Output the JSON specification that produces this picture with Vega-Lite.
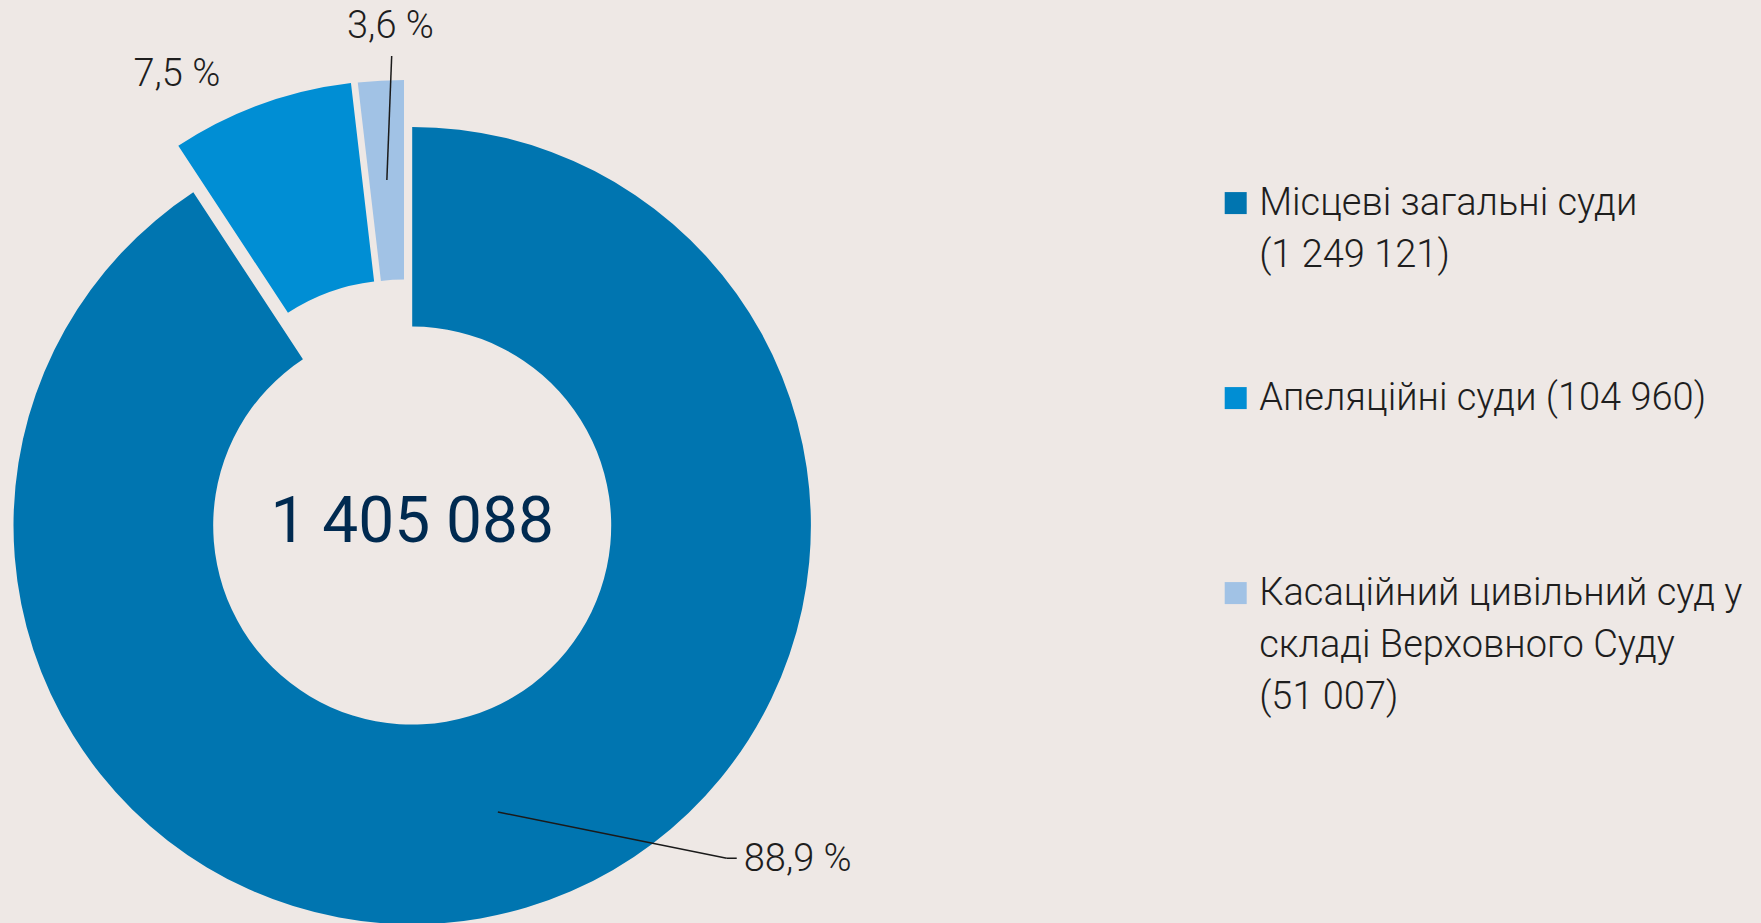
{
  "$schema": "https://vega.github.io/schema/vega-lite/v6.json",
  "width": 824.4,
  "height": 792.4,
  "autosize": {"type": "none"},
  "padding": {"left": 0, "top": 129.4, "right": 936.6, "bottom": 1.2},
  "background": "#EEE8E5",
  "config": {
    "view": {"stroke": null},
    "font": "Roboto",
    "locale": {"number": {"decimal": ",", "thousands": " ", "grouping": [3], "currency": ["", ""]}},
    "style": {"guide-label": {"lineHeight": 52}}
  },
  "data": {
    "values": [
      {"key": "local", "order": 1, "label": "Місцеві загальні суди|(1 249 121)|", "count": 1249121, "share": 90.75, "pct": "88,9 %"},
      {"key": "appeal", "order": 2, "label": "Апеляційні суди (104 960)||", "count": 104960, "share": 7.4, "pct": "7,5 %"},
      {"key": "cass", "order": 3, "label": "Касаційний цивільний суд у|складі Верховного Суду|(51 007)", "count": 51007, "share": 1.85, "pct": "3,6 %"}
    ]
  },
  "transform": [
    {"stack": "share", "groupby": [], "as": ["v0", "v1"], "sort": [{"field": "order", "order": "ascending"}]},
    {"calculate": "(datum.v0 + datum.v1) / 2", "as": "mid"}
  ],
  "layer": [
    {
      "encoding": {
        "theta": {"field": "v0", "type": "quantitative", "stack": null, "scale": {"domain": [0, 100]}},
        "theta2": {"field": "v1"},
        "color": {
          "field": "label",
          "type": "nominal",
          "scale": {
            "domain": ["Місцеві загальні суди|(1 249 121)|", "Апеляційні суди (104 960)||", "Касаційний цивільний суд у|складі Верховного Суду|(51 007)"],
            "range": ["#0075B0", "#008ED4", "#A1C2E5"]
          },
          "legend": {
            "title": null,
            "orient": "none",
            "legendX": 1216.7,
            "legendY": 67,
            "direction": "vertical",
            "padding": 0,
            "rowPadding": 53,
            "symbolType": "M-1,-2.12H1V-0.12H-1Z",
            "symbolSize": 484,
            "symbolStrokeWidth": 0,
            "symbolOpacity": 1,
            "labelExpr": "split(datum.label, '|')",
            "labelFont": "Roboto",
            "labelFontSize": 38,
            "labelFontWeight": 300,
            "labelColor": "#1E1E1E",
            "labelBaseline": "alphabetic",
            "labelOffset": 4.5,
            "labelLimit": 800
          }
        }
      },
      "layer": [
        {
          "transform": [{"filter": "datum.key == 'local'"}],
          "mark": {"type": "arc", "radius": 398.7, "radius2": 199}
        },
        {
          "transform": [{"filter": "datum.key == 'appeal'"}],
          "mark": {"type": "arc", "radius": 398.7, "radius2": 199, "xOffset": -15, "yOffset": -46.5}
        },
        {
          "transform": [{"filter": "datum.key == 'cass'"}],
          "mark": {"type": "arc", "radius": 398.7, "radius2": 199, "xOffset": -8.2, "yOffset": -47}
        }
      ]
    },
    {
      "transform": [
        {"filter": "datum.key == 'local'"},
        {"calculate": "299 * sin(datum.mid / 100 * 2 * PI)", "as": "lx0"},
        {"calculate": "299 * cos(datum.mid / 100 * 2 * PI)", "as": "ly0"},
        {"calculate": "457.8 * sin((datum.mid - 7.43) / 100 * 2 * PI)", "as": "lx1"},
        {"calculate": "457.8 * cos((datum.mid - 7.43) / 100 * 2 * PI)", "as": "ly1"},
        {"calculate": "datum.lx1 + 10", "as": "lx2"}
      ],
      "layer": [
        {
          "mark": {"type": "rule", "color": "#1A1A1A", "strokeWidth": 1.5},
          "encoding": {
            "x": {"field": "lx0", "type": "quantitative", "scale": {"domain": [-412.2, 412.2], "nice": false, "zero": false}, "axis": null},
            "y": {"field": "ly0", "type": "quantitative", "scale": {"domain": [-396.2, 396.2], "nice": false, "zero": false}, "axis": null},
            "x2": {"field": "lx1"},
            "y2": {"field": "ly1"}
          }
        },
        {
          "mark": {"type": "rule", "color": "#1A1A1A", "strokeWidth": 1.5},
          "encoding": {
            "x": {"field": "lx1", "type": "quantitative", "scale": {"domain": [-412.2, 412.2], "nice": false, "zero": false}, "axis": null},
            "y": {"field": "ly1", "type": "quantitative", "scale": {"domain": [-396.2, 396.2], "nice": false, "zero": false}, "axis": null},
            "x2": {"field": "lx2"}
          }
        }
      ]
    },
    {
      "transform": [
        {"filter": "datum.key == 'cass'"},
        {"calculate": "346.5 * sin((datum.mid - 0.24) / 100 * 2 * PI)", "as": "lx0"},
        {"calculate": "346.5 * cos((datum.mid - 0.24) / 100 * 2 * PI)", "as": "ly0"},
        {"calculate": "470 * sin((datum.mid + 0.23) / 100 * 2 * PI)", "as": "lx1"},
        {"calculate": "470 * cos((datum.mid + 0.23) / 100 * 2 * PI)", "as": "ly1"}
      ],
      "mark": {"type": "rule", "color": "#1A1A1A", "strokeWidth": 1.5},
      "encoding": {
        "x": {"field": "lx0", "type": "quantitative", "scale": {"domain": [-412.2, 412.2], "nice": false, "zero": false}, "axis": null},
        "y": {"field": "ly0", "type": "quantitative", "scale": {"domain": [-396.2, 396.2], "nice": false, "zero": false}, "axis": null},
        "x2": {"field": "lx1"},
        "y2": {"field": "ly1"}
      }
    },
    {
      "transform": [{"filter": "datum.key == 'local'"}],
      "mark": {"type": "text", "radius": 510, "thetaOffset": -0.5664, "font": "Roboto", "fontSize": 38, "fontWeight": 300, "color": "#1E1E1E", "align": "center", "baseline": "middle"},
      "encoding": {
        "theta": {"field": "mid", "type": "quantitative", "stack": null, "scale": {"domain": [0, 100]}},
        "text": {"field": "pct"}
      }
    },
    {
      "transform": [{"filter": "datum.key == 'appeal'"}],
      "mark": {"type": "text", "radius": 508, "thetaOffset": -0.133, "font": "Roboto", "fontSize": 38, "fontWeight": 300, "color": "#1E1E1E", "align": "center", "baseline": "middle"},
      "encoding": {
        "theta": {"field": "mid", "type": "quantitative", "stack": null, "scale": {"domain": [0, 100]}},
        "text": {"field": "pct"}
      }
    },
    {
      "transform": [{"filter": "datum.key == 'cass'"}],
      "mark": {"type": "text", "radius": 499, "thetaOffset": 0.0145, "font": "Roboto", "fontSize": 38, "fontWeight": 300, "color": "#1E1E1E", "align": "center", "baseline": "middle"},
      "encoding": {
        "theta": {"field": "mid", "type": "quantitative", "stack": null, "scale": {"domain": [0, 100]}},
        "text": {"field": "pct"}
      }
    },
    {
      "transform": [{"aggregate": [{"op": "sum", "field": "count", "as": "total"}]}],
      "mark": {"type": "text", "font": "Roboto", "fontSize": 64, "fontWeight": 400, "color": "#002A50", "align": "center", "baseline": "alphabetic", "dy": 16},
      "encoding": {
        "text": {"field": "total", "type": "quantitative", "format": ","}
      }
    }
  ]
}
